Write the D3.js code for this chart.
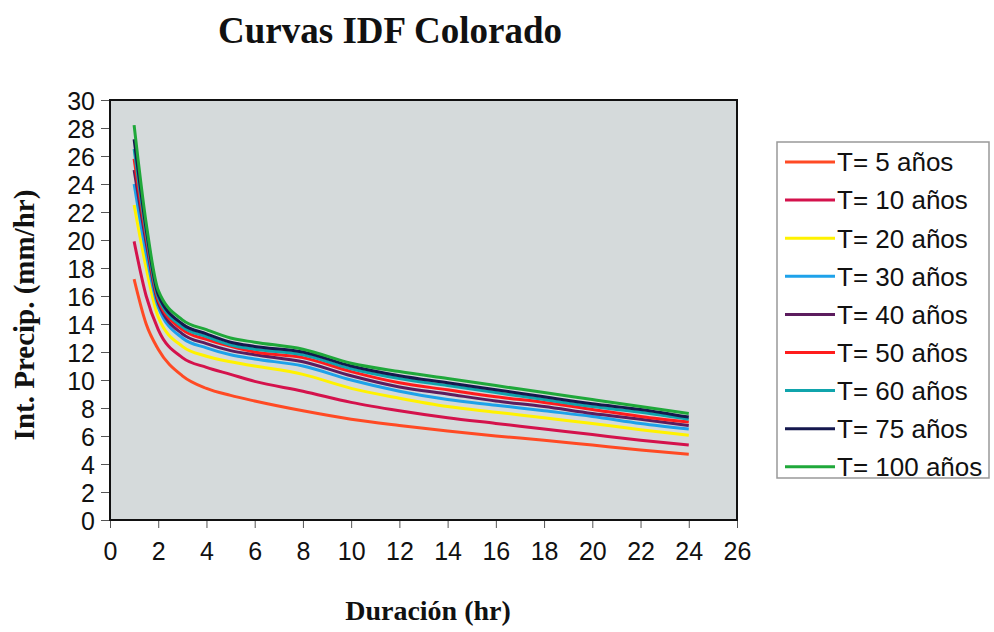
<!DOCTYPE html>
<html>
<head>
<meta charset="utf-8">
<script src="https://cdn.jsdelivr.net/npm/d3@7"></script>
<style>
  body { margin: 0; background: #fff; }
  svg text { fill: #111; }
</style>
</head>
<body>
<div id="wrapper"></div>
<script>
// duraciones (hr)
const durations = [1, 1.5, 2, 3, 4, 5, 6, 8, 10, 12, 14, 16, 18, 20, 22, 24];

// intensidades (mm/hr) por periodo de retorno
const t5   = [17.2, 14.0, 12.2, 10.3, 9.4, 8.9, 8.5, 7.8, 7.2, 6.75, 6.35, 6.0, 5.7, 5.35, 5.0, 4.7];
const t10  = [19.9, 16.0, 13.6, 11.6, 10.9, 10.4, 9.9, 9.2, 8.4, 7.8, 7.3, 6.9, 6.5, 6.1, 5.7, 5.35];
const t20  = [22.5, 18.0, 14.5, 12.4, 11.7, 11.3, 11.0, 10.4, 9.4, 8.7, 8.1, 7.7, 7.3, 6.9, 6.45, 6.05];
const t30  = [24.0, 19.0, 15.2, 13.0, 12.3, 11.8, 11.5, 11.0, 10.0, 9.2, 8.6, 8.2, 7.8, 7.4, 6.9, 6.5];
const t40  = [25.0, 19.8, 15.5, 13.3, 12.6, 12.1, 11.8, 11.3, 10.3, 9.5, 9.0, 8.5, 8.1, 7.6, 7.2, 6.75];
const t50  = [25.8, 20.2, 15.7, 13.6, 12.9, 12.4, 12.0, 11.6, 10.6, 9.8, 9.3, 8.8, 8.4, 7.9, 7.4, 7.0];
const t60  = [26.5, 20.5, 15.9, 13.8, 13.1, 12.5, 12.2, 11.8, 10.8, 10.1, 9.6, 9.1, 8.6, 8.1, 7.7, 7.2];
const t75  = [27.2, 20.8, 16.1, 14.0, 13.3, 12.7, 12.4, 12.0, 11.0, 10.3, 9.8, 9.3, 8.8, 8.3, 7.9, 7.35];
const t100 = [28.2, 21.2, 16.4, 14.3, 13.6, 13.0, 12.7, 12.2, 11.2, 10.6, 10.1, 9.6, 9.1, 8.6, 8.1, 7.6];

const seriesNames = ["T= 5 años", "T= 10 años", "T= 20 años", "T= 30 años", "T= 40 años",
                     "T= 50 años", "T= 60 años", "T= 75 años", "T= 100 años"];
const seriesValues = [t5, t10, t20, t30, t40, t50, t60, t75, t100];
const seriesColors = ["#ff4a24", "#d4124c", "#fff200", "#1ea2ea", "#5c1c5e",
                      "#ff1c1c", "#10a4ac", "#15184e", "#1fa83a"];

const xTicks = d3.range(0, 27, 2);
const yTicks = d3.range(0, 31, 2);

const dimension = {
    width: 994,
    height: 632,
    margin: { top: 100, left: 110, bottom: 112, right: 257 }
};
dimension.boundedWidth = dimension.width - dimension.margin.left - dimension.margin.right;
dimension.boundedHeight = dimension.height - dimension.margin.top - dimension.margin.bottom;

const svg = d3.select("#wrapper").append("svg")
    .attr("width", dimension.width)
    .attr("height", dimension.height);

const x = d3.scaleLinear().domain([0, 26]).range([0, dimension.boundedWidth]);
const y = d3.scaleLinear().domain([0, 30]).range([dimension.boundedHeight, 0]);

const bounded = svg.append("g")
    .attr("transform", `translate(${dimension.margin.left},${dimension.margin.top})`);

// fondo del area de trazado
bounded.append("rect")
    .attr("width", dimension.boundedWidth)
    .attr("height", dimension.boundedHeight)
    .attr("fill", "#d5dadb");

// ejes
const xAxis = d3.axisBottom(x).tickValues(xTicks).tickSize(8).tickPadding(14);
const yAxis = d3.axisLeft(y).tickValues(yTicks).tickSize(9).tickPadding(6);

const gx = bounded.append("g")
    .attr("transform", `translate(0,${dimension.boundedHeight})`)
    .call(xAxis);
const gy = bounded.append("g").call(yAxis);

[gx, gy].forEach(g => {
    g.select(".domain").remove();
    g.selectAll(".tick line").attr("stroke", "#555").attr("stroke-width", 1);
    g.selectAll(".tick text")
        .attr("font-family", "Liberation Sans, Arial, sans-serif")
        .attr("font-size", 25)
        .attr("fill", "#111");
});
gy.selectAll(".tick text").attr("dy", "0.36em");

// lineas
const line = d3.line()
    .x((d, i) => x(durations[i]))
    .y(d => y(d))
    .curve(d3.curveMonotoneX);

bounded.append("g")
    .selectAll("path")
    .data(seriesValues)
    .join("path")
    .attr("d", d => line(d))
    .attr("fill", "none")
    .attr("stroke", (d, i) => seriesColors[i])
    .attr("stroke-width", 3)
    .attr("stroke-linejoin", "round");

// marco
bounded.append("rect")
    .attr("width", dimension.boundedWidth)
    .attr("height", dimension.boundedHeight)
    .attr("fill", "none")
    .attr("stroke", "#111")
    .attr("stroke-width", 2);

// titulos
svg.append("text")
    .attr("x", 390).attr("y", 43)
    .attr("text-anchor", "middle")
    .attr("font-family", "Liberation Serif, Times New Roman, serif")
    .attr("font-weight", "bold")
    .attr("font-size", 37)
    .text("Curvas IDF Colorado");

svg.append("text")
    .attr("x", 428).attr("y", 620)
    .attr("text-anchor", "middle")
    .attr("font-family", "Liberation Serif, Times New Roman, serif")
    .attr("font-weight", "bold")
    .attr("font-size", 28)
    .text("Duración (hr)");

svg.append("text")
    .attr("transform", "translate(34,315) rotate(-90)")
    .attr("text-anchor", "middle")
    .attr("font-family", "Liberation Serif, Times New Roman, serif")
    .attr("font-weight", "bold")
    .attr("font-size", 29)
    .text("Int. Precip. (mm/hr)");

// leyenda
const legend = svg.append("g").attr("transform", "translate(777,142)");
legend.append("rect")
    .attr("width", 212)
    .attr("height", 336)
    .attr("fill", "#fff")
    .attr("stroke", "#999")
    .attr("stroke-width", 1.5);

const items = legend.selectAll("g.item")
    .data(seriesNames)
    .join("g")
    .attr("class", "item")
    .attr("transform", (d, i) => `translate(0,${20 + i * 38.1})`);

items.append("line")
    .attr("x1", 8).attr("x2", 58)
    .attr("stroke", (d, i) => seriesColors[i])
    .attr("stroke-width", 3);

items.append("text")
    .attr("x", 60)
    .attr("dy", "0.36em")
    .attr("font-family", "Liberation Sans, Arial, sans-serif")
    .attr("font-size", 26)
    .text(d => d);
</script>
</body>
</html>
